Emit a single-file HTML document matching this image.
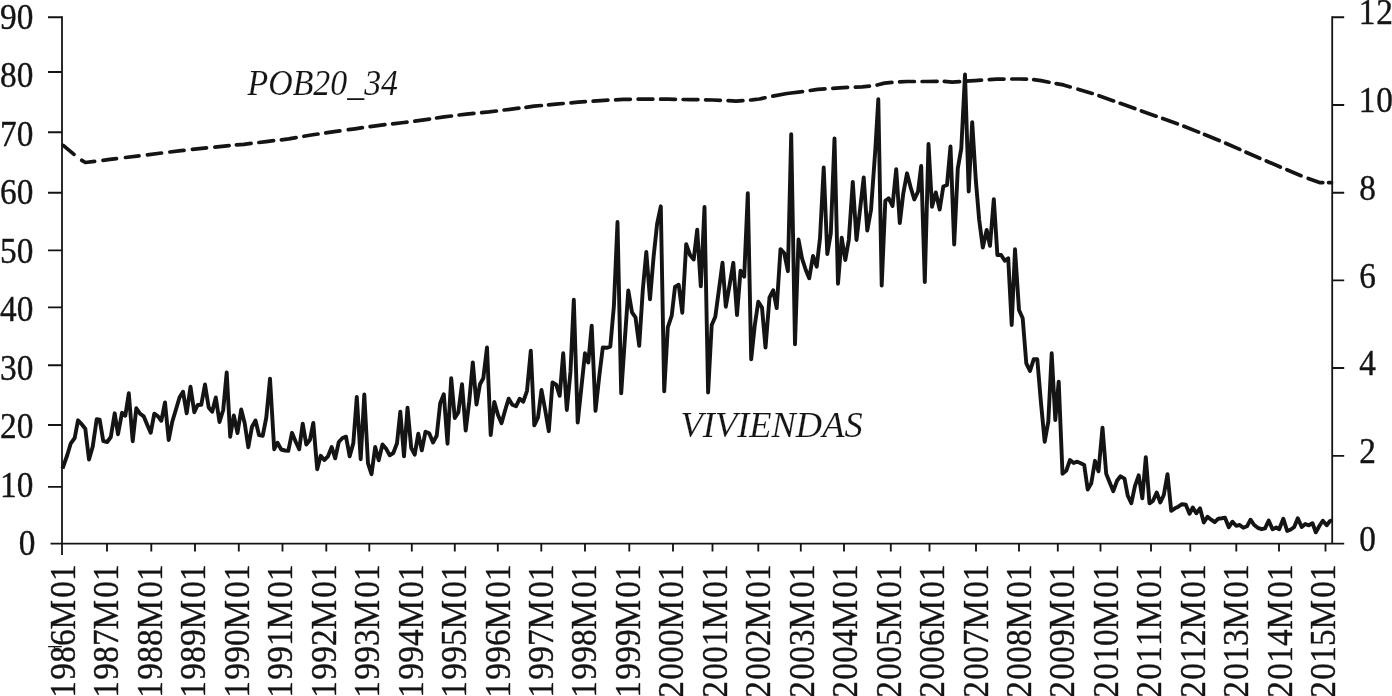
<!DOCTYPE html>
<html lang="es"><head><meta charset="utf-8"><title>VIVIENDAS y POB20_34</title>
<style>
html,body{margin:0;padding:0;background:#fff;}
body{width:1392px;height:696px;overflow:hidden;}
svg{display:block;}
text{font-family:"Liberation Serif",serif;fill:#141414;stroke:#141414;stroke-width:0.4px;stroke-linejoin:round;}
.ax{stroke:#141414;stroke-width:1.8;fill:none;}
.num{font-size:36.2px;}
.lab{font-style:italic;stroke:#fff;stroke-width:0.12px;}
</style></head><body>
<svg width="1392" height="696" viewBox="0 0 1392 696">
<rect width="1392" height="696" fill="#fff"/>
<g class="ax">
<path d="M62 16.30V555"/>
<path d="M1332.2 16.30V543.7"/>
<path d="M50.5 543.7H1344.2"/>
<path d="M48 17.2H62M48 72.0H62M48 132.2H62M48 192.7H62M48 250.4H62M48 307.3H62M48 365.2H62M48 425.0H62M48 486.8H62" stroke-width="1.85"/>
<path d="M1332.2 17.2H1344.2M1332.2 105.0H1344.2M1332.2 192.7H1344.2M1332.2 280.3H1344.2M1332.2 368.0H1344.2M1332.2 455.8H1344.2" stroke-width="1.85"/>
<path d="M107 543.7V551.5M151.3 543.7V551.5M195 543.7V551.5M238.8 543.7V551.5M282.5 543.7V551.5M326.3 543.7V551.5M369.3 543.7V551.5M411.8 543.7V551.5M454.8 543.7V551.5M497.8 543.7V551.5M541.3 543.7V551.5M585 543.7V551.5M629.3 543.7V551.5M673 543.7V551.5M712.5 543.7V551.5M758.3 543.7V551.5M800.8 543.7V551.5M844 543.7V551.5M890.8 543.7V551.5M929.5 543.7V551.5M976 543.7V551.5M1019 543.7V551.5M1057.8 543.7V551.5M1100.5 543.7V551.5M1151 543.7V551.5M1190.3 543.7V551.5M1236.3 543.7V551.5M1279 543.7V551.5M1325.5 543.7V551.5" stroke-width="1.85"/>
<path d="M48.1 646.6H61.9M54.5 646.6V648.6" stroke-width="1.3"/>
</g>
<g class="num">
<text transform="translate(0 28.55) scale(0.92 1)" x="-0.03 18.23" y="0">90</text>
<text transform="translate(0 87.05) scale(0.92 1)" x="-0.03 18.23" y="0">80</text>
<text transform="translate(0 145.55) scale(0.92 1)" x="-0.03 18.23" y="0">70</text>
<text transform="translate(0 204.05) scale(0.92 1)" x="-0.03 18.23" y="0">60</text>
<text transform="translate(0 262.55) scale(0.92 1)" x="-0.03 18.23" y="0">50</text>
<text transform="translate(0 321.05) scale(0.92 1)" x="-0.03 18.23" y="0">40</text>
<text transform="translate(0 379.55) scale(0.92 1)" x="-0.03 18.23" y="0">30</text>
<text transform="translate(0 438.05) scale(0.92 1)" x="-0.03 18.23" y="0">20</text>
<text transform="translate(0 496.55) scale(0.92 1)" x="-0.03 18.23" y="0">10</text>
<text transform="translate(0 555.05) scale(0.92 1)" x="20.52" y="0">0</text>
<text transform="translate(0 24.25) scale(0.92 1)" x="1476.82 1496.06" y="0">12</text>
<text transform="translate(0 112.05) scale(0.92 1)" x="1476.82 1496.06" y="0">10</text>
<text transform="translate(0 199.85) scale(0.92 1)" x="1477.47" y="0">8</text>
<text transform="translate(0 287.65) scale(0.92 1)" x="1477.47" y="0">6</text>
<text transform="translate(0 375.45) scale(0.92 1)" x="1477.47" y="0">4</text>
<text transform="translate(0 463.25) scale(0.92 1)" x="1477.47" y="0">2</text>
<text transform="translate(0 551.05) scale(0.92 1)" x="1477.47" y="0">0</text>
</g>
<g class="num">
<text transform="translate(75.00 697.5) rotate(-90) scale(0.92 1)" x="-0.35 19.32 37.69 55.95 73.80 108.34 126.71" y="0">1986M01</text>
<text transform="translate(118.45 697.5) rotate(-90) scale(0.92 1)" x="-0.35 19.32 37.69 55.95 73.80 108.34 126.71" y="0">1987M01</text>
<text transform="translate(161.91 697.5) rotate(-90) scale(0.92 1)" x="-0.35 19.32 37.69 55.95 73.80 108.34 126.71" y="0">1988M01</text>
<text transform="translate(205.37 697.5) rotate(-90) scale(0.92 1)" x="-0.35 19.32 37.69 55.95 73.80 108.34 126.71" y="0">1989M01</text>
<text transform="translate(248.82 697.5) rotate(-90) scale(0.92 1)" x="-0.35 19.32 37.69 55.95 73.80 108.34 126.71" y="0">1990M01</text>
<text transform="translate(292.27 697.5) rotate(-90) scale(0.92 1)" x="-0.35 19.32 37.69 55.95 73.80 108.34 126.71" y="0">1991M01</text>
<text transform="translate(335.73 697.5) rotate(-90) scale(0.92 1)" x="-0.35 19.32 37.69 55.95 73.80 108.34 126.71" y="0">1992M01</text>
<text transform="translate(379.19 697.5) rotate(-90) scale(0.92 1)" x="-0.35 19.32 37.69 55.95 73.80 108.34 126.71" y="0">1993M01</text>
<text transform="translate(422.64 697.5) rotate(-90) scale(0.92 1)" x="-0.35 19.32 37.69 55.95 73.80 108.34 126.71" y="0">1994M01</text>
<text transform="translate(466.09 697.5) rotate(-90) scale(0.92 1)" x="-0.35 19.32 37.69 55.95 73.80 108.34 126.71" y="0">1995M01</text>
<text transform="translate(509.55 697.5) rotate(-90) scale(0.92 1)" x="-0.35 19.32 37.69 55.95 73.80 108.34 126.71" y="0">1996M01</text>
<text transform="translate(553.00 697.5) rotate(-90) scale(0.92 1)" x="-0.35 19.32 37.69 55.95 73.80 108.34 126.71" y="0">1997M01</text>
<text transform="translate(596.46 697.5) rotate(-90) scale(0.92 1)" x="-0.35 19.32 37.69 55.95 73.80 108.34 126.71" y="0">1998M01</text>
<text transform="translate(639.91 697.5) rotate(-90) scale(0.92 1)" x="-0.35 19.32 37.69 55.95 73.80 108.34 126.71" y="0">1999M01</text>
<text transform="translate(683.37 697.5) rotate(-90) scale(0.92 1)" x="-0.35 19.32 37.69 55.95 73.80 108.34 126.71" y="0">2000M01</text>
<text transform="translate(726.82 697.5) rotate(-90) scale(0.92 1)" x="-0.35 19.32 37.69 55.95 73.80 108.34 126.71" y="0">2001M01</text>
<text transform="translate(770.28 697.5) rotate(-90) scale(0.92 1)" x="-0.35 19.32 37.69 55.95 73.80 108.34 126.71" y="0">2002M01</text>
<text transform="translate(813.74 697.5) rotate(-90) scale(0.92 1)" x="-0.35 19.32 37.69 55.95 73.80 108.34 126.71" y="0">2003M01</text>
<text transform="translate(857.19 697.5) rotate(-90) scale(0.92 1)" x="-0.35 19.32 37.69 55.95 73.80 108.34 126.71" y="0">2004M01</text>
<text transform="translate(900.64 697.5) rotate(-90) scale(0.92 1)" x="-0.35 19.32 37.69 55.95 73.80 108.34 126.71" y="0">2005M01</text>
<text transform="translate(944.10 697.5) rotate(-90) scale(0.92 1)" x="-0.35 19.32 37.69 55.95 73.80 108.34 126.71" y="0">2006M01</text>
<text transform="translate(987.55 697.5) rotate(-90) scale(0.92 1)" x="-0.35 19.32 37.69 55.95 73.80 108.34 126.71" y="0">2007M01</text>
<text transform="translate(1031.01 697.5) rotate(-90) scale(0.92 1)" x="-0.35 19.32 37.69 55.95 73.80 108.34 126.71" y="0">2008M01</text>
<text transform="translate(1074.46 697.5) rotate(-90) scale(0.92 1)" x="-0.35 19.32 37.69 55.95 73.80 108.34 126.71" y="0">2009M01</text>
<text transform="translate(1117.92 697.5) rotate(-90) scale(0.92 1)" x="-0.35 19.32 37.69 55.95 73.80 108.34 126.71" y="0">2010M01</text>
<text transform="translate(1161.38 697.5) rotate(-90) scale(0.92 1)" x="-0.35 19.32 37.69 55.95 73.80 108.34 126.71" y="0">2011M01</text>
<text transform="translate(1204.83 697.5) rotate(-90) scale(0.92 1)" x="-0.35 19.32 37.69 55.95 73.80 108.34 126.71" y="0">2012M01</text>
<text transform="translate(1248.28 697.5) rotate(-90) scale(0.92 1)" x="-0.35 19.32 37.69 55.95 73.80 108.34 126.71" y="0">2013M01</text>
<text transform="translate(1291.74 697.5) rotate(-90) scale(0.92 1)" x="-0.35 19.32 37.69 55.95 73.80 108.34 126.71" y="0">2014M01</text>
<text transform="translate(1335.19 697.5) rotate(-90) scale(0.92 1)" x="-0.35 19.32 37.69 55.95 73.80 108.34 126.71" y="0">2015M01</text>
</g>
<text class="lab" font-size="36.2" x="247.5" y="95.0" textLength="150.5" lengthAdjust="spacingAndGlyphs">POB20_34</text>
<text class="lab" font-size="35.0" x="680.6" y="436.7" textLength="182" lengthAdjust="spacingAndGlyphs">VIVIENDAS</text>
<path d="M63.2 145.4L74.0 154.4M81.8 160.3L85.4 162.5L94.6 161.3M103.0 160.3L109.8 159.4L116.5 158.6M125.5 157.5L139.0 155.8M147.4 154.8L161.5 153.0M169.9 152.0L181.0 150.6L184.0 150.3M192.4 149.4L206.5 147.9M214.9 147.1L229.1 145.6M236.4 144.9L243.8 144.3L251.1 143.4M258.9 142.5L266.2 141.6L273.6 140.7M281.4 139.8L288.8 138.9L296.1 137.6M303.9 136.3L311.2 135.0L318.0 134.0M325.8 132.9L332.5 131.9L339.9 130.9M348.3 129.7L355.0 128.8L362.4 127.7M370.1 126.6L377.5 125.6L384.9 124.7M392.6 123.8L404.0 122.5L407.0 122.1M414.8 121.2L422.1 120.2L429.5 119.1M436.6 118.0L444.0 116.9L451.4 116.0M459.1 115.0L466.5 114.1L473.9 113.4M481.6 112.6L489.0 111.9L496.4 111.0M504.1 110.0L511.5 109.1L518.9 108.2M526.0 107.3L534.0 106.2L541.4 105.5M548.5 104.8L555.9 104.1L563.2 103.5M571.0 102.8L578.0 102.2L585.4 101.7M593.1 101.1L600.5 100.6L607.9 100.2M615.6 99.8L623.0 99.4L630.4 99.3M638.1 99.2L645.5 99.1L652.9 99.1M660.6 99.2L668.0 99.2L675.4 99.4M683.1 99.5L690.5 99.6L697.9 99.7M705.6 99.9L713.0 100.0L720.4 100.3M728.1 100.7L736.1 101.2L742.9 100.7M750.6 100.0L752.0 99.9L759.5 99.0L765.0 97.8M772.8 96.1L787.0 93.5L802.5 91.6M810.3 90.5L817.6 89.4L825.0 88.8M832.8 88.3L839.5 87.8L847.5 87.4M855.3 87.2L862.0 86.9L869.4 86.1M877.1 85.0L884.5 83.1L891.9 82.3M899.6 81.9L907.0 81.5L914.4 81.5M922.1 81.5L926.0 81.5L937.1 81.4M944.3 81.4L952.2 82.2L959.6 81.6M965.9 81.2L974.8 80.6L981.5 80.1M989.3 79.6L996.6 79.1L1004.0 79.1M1011.8 79.0L1019.1 79.0L1026.5 79.2M1033.7 79.6L1041.0 80.6L1049.0 82.2M1056.2 83.6L1063.5 84.9L1070.2 86.9M1078.0 89.2L1092.2 93.4M1099.0 95.7L1113.6 100.9M1120.2 103.3L1134.8 108.6M1141.4 110.9L1156.1 116.2M1162.7 118.5L1177.3 123.8M1183.9 126.2L1198.6 132.1M1204.5 134.5L1219.2 140.5M1225.7 143.2L1239.8 149.4M1246.0 152.2L1259.8 158.3M1266.3 161.0L1280.3 167.0M1286.9 169.7L1301.0 175.7M1308.2 178.4L1319.5 182.6L1322.8 182.6M1328.6 182.6L1331.5 182.6" fill="none" stroke="#141414" stroke-width="3.7" stroke-linecap="round" stroke-linejoin="round"/>
<polyline points="62.5,468.7 67.3,455.0 70.8,443.3 74.7,438.0 78.0,420.3 81.7,424.2 85.3,428.7 89.0,459.5 92.7,446.7 96.7,419.2 99.7,419.7 103.3,441.2 107.2,442.0 110.8,437.0 114.7,413.3 118.0,434.2 122.0,412.8 125.3,415.8 128.8,393.3 132.7,441.2 136.3,408.3 140.0,413.7 143.7,416.3 147.2,424.7 150.7,432.8 154.3,413.7 158.0,416.3 161.3,420.8 165.0,402.5 168.7,440.0 172.2,422.0 175.8,410.0 179.5,397.5 183.0,391.7 186.7,413.3 190.5,386.7 194.3,412.2 197.7,405.0 201.3,404.7 205.0,384.5 208.7,407.5 212.2,411.7 215.8,397.5 219.5,422.0 223.2,410.0 226.7,372.5 230.2,436.7 233.8,415.5 237.5,433.0 241.2,409.5 244.7,423.3 248.3,447.2 252.0,426.7 255.5,420.5 259.0,435.0 262.7,435.8 266.3,417.5 270.0,378.7 274.2,449.2 277.5,442.8 281.2,449.5 285.0,450.5 288.3,450.8 292.0,432.8 295.7,441.7 299.2,449.2 302.7,423.7 306.3,444.5 310.0,439.7 313.3,423.0 317.2,469.2 320.7,455.8 324.3,460.0 328.0,456.3 331.7,447.0 335.2,458.3 338.8,442.0 342.5,438.0 346.0,436.7 349.7,456.3 353.3,443.3 356.8,397.0 360.7,459.2 364.3,394.5 368.0,463.3 371.5,474.2 375.2,447.0 378.7,460.3 382.5,444.5 386.2,448.8 389.7,455.3 393.3,453.0 397.0,443.3 400.3,411.7 404.0,456.3 407.5,407.8 411.2,447.8 414.7,454.7 418.3,433.7 421.8,450.3 425.5,431.7 429.2,433.3 433.0,442.5 436.7,435.8 440.2,403.3 443.8,394.2 447.5,443.7 451.2,378.3 454.8,418.0 458.3,412.5 462.0,384.2 465.7,430.5 469.2,401.7 472.8,362.5 476.5,404.5 480.0,384.2 483.3,378.3 487.0,347.5 490.7,435.0 494.3,402.0 498.0,415.0 501.5,423.3 505.2,410.0 508.7,398.7 512.3,404.7 516.0,406.3 519.7,398.7 523.3,401.7 527.0,390.8 530.8,350.8 534.3,425.3 538.0,417.5 541.5,390.0 545.2,410.0 548.8,431.2 552.5,382.5 556.2,384.7 559.7,395.8 563.2,353.3 566.8,410.0 570.5,371.7 573.8,299.8 577.7,422.5 581.3,388.3 585.0,353.3 588.3,362.5 591.7,325.7 595.5,410.8 599.2,376.7 602.8,347.5 606.7,347.8 610.3,346.7 613.9,306.0 617.5,222.0 621.2,393.3 624.8,340.0 628.3,290.5 632.0,312.3 635.5,317.3 639.2,345.8 642.8,290.0 646.3,252.0 650.0,299.3 653.7,255.7 657.1,224.0 660.8,206.3 664.2,391.3 667.8,327.3 671.7,315.7 675.0,287.0 678.7,284.7 682.3,312.7 686.2,244.2 690.0,255.0 693.7,259.5 697.2,229.7 700.8,286.4 704.5,207.0 708.1,392.5 711.7,325.0 715.3,316.7 718.9,290.0 722.5,262.8 725.8,306.7 729.6,285.0 733.3,262.8 737.0,315.0 740.5,270.8 744.2,276.7 747.8,193.3 751.2,359.2 754.8,325.0 758.3,301.7 762.0,307.5 765.5,347.5 769.5,297.5 773.2,290.3 776.7,308.0 780.5,249.2 784.2,253.0 787.9,271.2 791.2,134.2 795.0,344.2 798.5,239.5 802.0,258.3 805.8,270.0 809.2,278.3 813.0,256.0 816.7,266.7 820.0,238.3 823.7,167.5 827.3,254.0 830.8,233.3 834.5,138.5 838.0,283.7 841.7,237.8 845.3,260.0 848.8,240.0 852.8,182.0 856.5,240.0 860.0,210.0 863.7,177.5 867.3,230.5 871.0,210.0 875.3,150.0 878.3,99.3 881.7,285.5 885.3,200.8 888.7,198.3 892.5,206.0 896.2,169.2 899.8,223.0 903.3,193.3 907.0,173.3 910.7,187.5 914.3,199.5 918.0,191.7 921.2,166.0 924.8,282.0 928.5,144.0 932.0,206.7 935.8,192.5 939.7,209.5 943.3,186.5 947.0,185.0 950.5,146.5 954.2,244.5 957.8,168.3 961.3,148.3 965.0,74.5 968.7,191.5 972.2,122.2 975.8,180.0 979.2,220.0 982.8,247.5 986.7,230.0 990.0,245.8 993.8,199.2 997.4,255.0 1001.1,255.0 1004.8,260.8 1008.2,258.2 1011.7,325.0 1015.0,249.3 1019.0,310.0 1022.7,318.3 1026.3,363.3 1030.0,371.0 1033.7,359.3 1037.3,359.3 1041.0,403.0 1044.7,441.7 1048.3,421.7 1051.7,353.3 1055.3,420.0 1058.7,381.7 1062.5,473.7 1066.2,470.8 1070.0,460.0 1073.7,463.0 1077.2,461.7 1080.8,463.3 1084.2,465.0 1087.7,489.5 1091.3,483.3 1095.0,460.8 1098.5,471.3 1102.5,427.7 1106.2,473.7 1109.7,482.5 1113.3,491.2 1117.0,480.8 1120.5,476.3 1124.5,478.7 1127.8,495.8 1131.3,503.3 1135.0,485.8 1138.7,475.3 1142.3,498.3 1145.8,457.2 1149.5,503.3 1153.0,500.8 1156.7,492.5 1160.3,502.5 1163.8,495.0 1167.5,474.2 1171.2,510.8 1175.0,508.3 1178.3,506.7 1182.0,504.2 1185.8,504.7 1189.5,513.8 1192.8,507.5 1196.3,513.3 1200.0,508.3 1203.8,522.5 1207.5,516.7 1211.2,519.7 1214.7,522.2 1218.3,518.7 1221.7,518.3 1225.0,517.8 1228.8,527.2 1232.5,521.7 1236.2,525.8 1239.7,525.0 1243.3,527.8 1247.0,526.3 1250.5,519.7 1254.2,525.0 1257.8,527.8 1261.7,529.2 1265.0,528.3 1268.7,520.5 1272.5,529.2 1276.2,527.5 1279.2,529.2 1283.3,518.7 1287.2,531.0 1290.8,529.5 1294.2,527.0 1297.8,518.2 1301.7,527.0 1305.3,524.0 1308.8,525.3 1312.5,523.2 1315.8,532.3 1319.5,525.7 1322.8,520.7 1326.7,525.3 1330.0,521.0 1332.2,520.3" fill="none" stroke="#141414" stroke-width="3.9" stroke-linejoin="round" stroke-linecap="butt"/>
</svg>
</body></html>
